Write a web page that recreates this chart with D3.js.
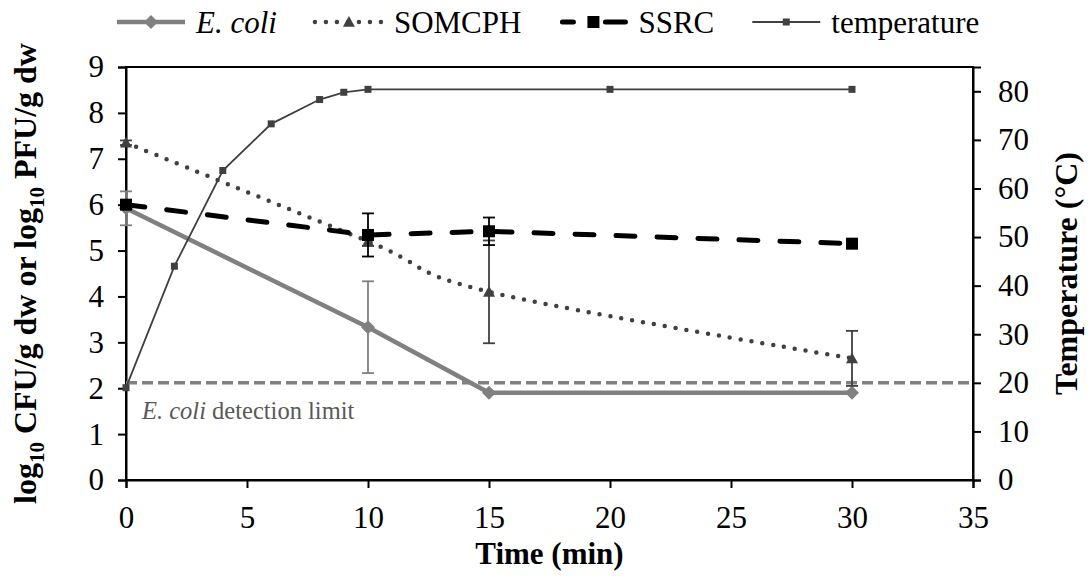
<!DOCTYPE html>
<html>
<head>
<meta charset="utf-8">
<script src="https://cdn.jsdelivr.net/npm/d3@7"></script>
<style>
  html, body { margin: 0; padding: 0; background: #fff; }
  svg { display: block; }
</style>
</head>
<body>
<svg id="chart" width="1089" height="577"></svg>
<script>
// Sampling times (min) for the microbial counts
const times = [0, 10, 15, 30];
// log10 counts and their standard deviations
const ecoli = [5.92, 3.33, 1.9, 1.9];
const ecoliErr = [0.37, 1.0, 0, 0];
const somcph = [7.35, 5.2, 4.1, 2.65];
const somcphErr = [0.05, 0.1, 1.12, 0.6];
const ssrc = [6.0, 5.34, 5.42, 5.15];
const ssrcErr = [0.08, 0.47, 0.3, 0.08];
// Temperature profile (secondary axis)
const tempTimes = [0, 2, 4, 6, 8, 9, 10, 20, 30];
const tempValues = [19, 44, 63.7, 73.3, 78.3, 79.8, 80.4, 80.4, 80.4];
// E. coli detection limit, drawn against the temperature axis scale
const detectionLevel = 20;
// Axis ticks
const xTicks = [0, 5, 10, 15, 20, 25, 30, 35];
const yTicks = [0, 1, 2, 3, 4, 5, 6, 7, 8, 9];
const y2Ticks = [0, 10, 20, 30, 40, 50, 60, 70, 80];
const legendLabels = ["E. coli", "SOMCPH", "SSRC", "temperature"];

const SERIF = "Liberation Serif";
const svg = d3.select("#chart");
const plot = { left: 126, right: 973, top: 67, bottom: 480 };

const x = d3.scaleLinear().domain([0, 35]).range([plot.left, plot.right]);
const y = d3.scaleLinear().domain([0, 9]).range([plot.bottom, plot.top]);
const y2 = d3.scaleLinear().domain([0, 85]).range([plot.bottom, plot.top]);

const FONT = 31;

// frame
svg.append("rect")
  .attr("x", plot.left).attr("y", plot.top)
  .attr("width", plot.right - plot.left).attr("height", plot.bottom - plot.top)
  .attr("fill", "none").attr("stroke", "#000").attr("stroke-width", 2);

// axes
function styleAxis(g) {
  g.attr("font-family", SERIF).attr("font-size", FONT);
  g.select(".domain").attr("stroke", "#000").attr("stroke-width", 2);
  g.selectAll(".tick line").attr("stroke", "#000").attr("stroke-width", 2);
  g.selectAll(".tick text").attr("fill", "#000");
}
svg.append("g").attr("transform", `translate(0,${plot.bottom})`)
  .call(d3.axisBottom(x).tickValues(xTicks).tickSizeOuter(0).tickSize(8).tickPadding(18))
  .call(styleAxis);
svg.append("g").attr("transform", `translate(${plot.left},0)`)
  .call(d3.axisLeft(y).tickValues(yTicks).tickSizeOuter(0).tickSize(8).tickPadding(14))
  .call(styleAxis);
svg.append("g").attr("transform", `translate(${plot.right},0)`)
  .call(d3.axisRight(y2).tickValues(y2Ticks).tickSizeOuter(0).tickSize(8).tickPadding(17))
  .call(styleAxis);

// axis titles
svg.append("text")
  .attr("x", (plot.left + plot.right) / 2).attr("y", 564)
  .attr("text-anchor", "middle").attr("font-weight", "bold").attr("font-family", SERIF)
  .attr("font-size", FONT).text("Time (min)");

const yTitle = svg.append("text")
  .attr("transform", `translate(36,${(plot.top + plot.bottom) / 2}) rotate(-90)`)
  .attr("text-anchor", "middle").attr("font-weight", "bold").attr("font-family", SERIF)
  .attr("font-size", 32);
yTitle.append("tspan").text("log");
yTitle.append("tspan").attr("dy", 8).attr("font-size", 21).text("10");
yTitle.append("tspan").attr("dy", -8).text(" CFU/g dw or log");
yTitle.append("tspan").attr("dy", 8).attr("font-size", 21).text("10");
yTitle.append("tspan").attr("dy", -8).text(" PFU/g dw");

svg.append("text")
  .attr("transform", `translate(1077,${(plot.top + plot.bottom) / 2}) rotate(-90)`)
  .attr("text-anchor", "middle").attr("font-weight", "bold").attr("font-family", SERIF)
  .attr("font-size", 32).text("Temperature (°C)");

// detection limit
svg.append("line")
  .attr("x1", plot.left).attr("x2", plot.right)
  .attr("y1", y2(detectionLevel)).attr("y2", y2(detectionLevel))
  .attr("stroke", "#808080").attr("stroke-width", 3.5).attr("stroke-dasharray", "11 5");
const det = svg.append("text").attr("x", 142).attr("y", y2(detectionLevel) + 36)
  .attr("fill", "#595959").attr("font-family", SERIF).attr("font-size", 24.5);
det.append("tspan").attr("font-style", "italic").text("E. coli");
det.append("tspan").text(" detection limit");

// marker shapes
function marker(g, type, cx, cy, size, color) {
  const h = size / 2;
  if (type === "diamond") {
    g.append("path").attr("d", `M${cx},${cy - h}L${cx + h},${cy}L${cx},${cy + h}L${cx - h},${cy}Z`).attr("fill", color);
  } else if (type === "triangle") {
    g.append("path").attr("d", `M${cx},${cy - h}L${cx + h},${cy + h * 0.8}L${cx - h},${cy + h * 0.8}Z`).attr("fill", color);
  } else if (type === "square") {
    g.append("rect").attr("x", cx - h).attr("y", cy - h)
      .attr("width", size).attr("height", size).attr("fill", color);
  }
}

const series = [
  { values: ecoli, err: ecoliErr, color: "#808080", width: 4.5, dash: null, cap: "butt", curve: d3.curveLinear, marker: "diamond", msize: 14 },
  { values: somcph, err: somcphErr, color: "#404040", width: 4.5, dash: "0 11", cap: "round", curve: d3.curveCardinal.tension(0), marker: "triangle", msize: 12 },
  { values: ssrc, err: ssrcErr, color: "#000", width: 5, dash: "19 22", cap: "round", curve: d3.curveLinear, marker: "square", msize: 12 },
];

series.forEach(s => {
  const g = svg.append("g");
  const pts = times.map((t, i) => [x(t), y(s.values[i])]);
  g.append("path")
    .attr("d", d3.line().curve(s.curve)(pts))
    .attr("fill", "none").attr("stroke", s.color).attr("stroke-width", s.width)
    .attr("stroke-linecap", s.cap).attr("stroke-linejoin", "round")
    .attr("stroke-dasharray", s.dash);
  times.forEach((t, i) => {
    if (s.err[i] > 0) {
      const cx = x(t), y1 = y(s.values[i] + s.err[i]), y0 = y(s.values[i] - s.err[i]);
      g.append("line").attr("x1", cx).attr("x2", cx).attr("y1", y1).attr("y2", y0)
        .attr("stroke", s.color).attr("stroke-width", 1.8);
      [y1, y0].forEach(yy => g.append("line").attr("x1", cx - 6).attr("x2", cx + 6)
        .attr("y1", yy).attr("y2", yy).attr("stroke", s.color).attr("stroke-width", 1.8));
    }
    marker(g, s.marker, x(t), y(s.values[i]), s.msize, s.color);
  });
});

// temperature
const tg = svg.append("g");
tg.append("path")
  .attr("d", d3.line()(tempTimes.map((t, i) => [x(t), y2(tempValues[i])])))
  .attr("fill", "none").attr("stroke", "#404040").attr("stroke-width", 1.8);
tempTimes.forEach((t, i) => marker(tg, "square", x(t), y2(tempValues[i]), 7, "#404040"));

// legend
const legendStyles = [
  { color: "#808080", width: 4.5, dash: null, cap: "butt", marker: "diamond", msize: 14, italic: true },
  { color: "#404040", width: 4.5, dash: "0 11", cap: "round", marker: "triangle", msize: 12 },
  { color: "#000", width: 5, dash: null, cap: "round", marker: "square", msize: 12, split: true },
  { color: "#404040", width: 1.8, dash: null, cap: "butt", marker: "square", msize: 7 },
];
const lg = svg.append("g");
let lx = 117;
const ly = 22;
legendLabels.forEach((label, i) => {
  const st = legendStyles[i];
  if (st.split) {
    // short long-dash sample: two dash segments around the marker
    lg.append("line").attr("x1", lx + 3).attr("x2", lx + 14).attr("y1", ly).attr("y2", ly)
      .attr("stroke", st.color).attr("stroke-width", st.width).attr("stroke-linecap", "round");
    lg.append("line").attr("x1", lx + 46).attr("x2", lx + 66).attr("y1", ly).attr("y2", ly)
      .attr("stroke", st.color).attr("stroke-width", st.width).attr("stroke-linecap", "round");
  } else {
    lg.append("line").attr("x1", lx).attr("x2", lx + 68).attr("y1", ly).attr("y2", ly)
      .attr("stroke", st.color).attr("stroke-width", st.width)
      .attr("stroke-linecap", st.cap).attr("stroke-dasharray", st.dash);
  }
  marker(lg, st.marker, lx + 34, ly, st.msize, st.color);
  const t = lg.append("text").attr("x", lx + 79).attr("y", ly + 11)
    .attr("font-family", SERIF).attr("font-size", FONT)
    .attr("font-style", st.italic ? "italic" : null).text(label);
  lx += 79 + t.node().getComputedTextLength() + 38;
});
</script>
</body>
</html>
